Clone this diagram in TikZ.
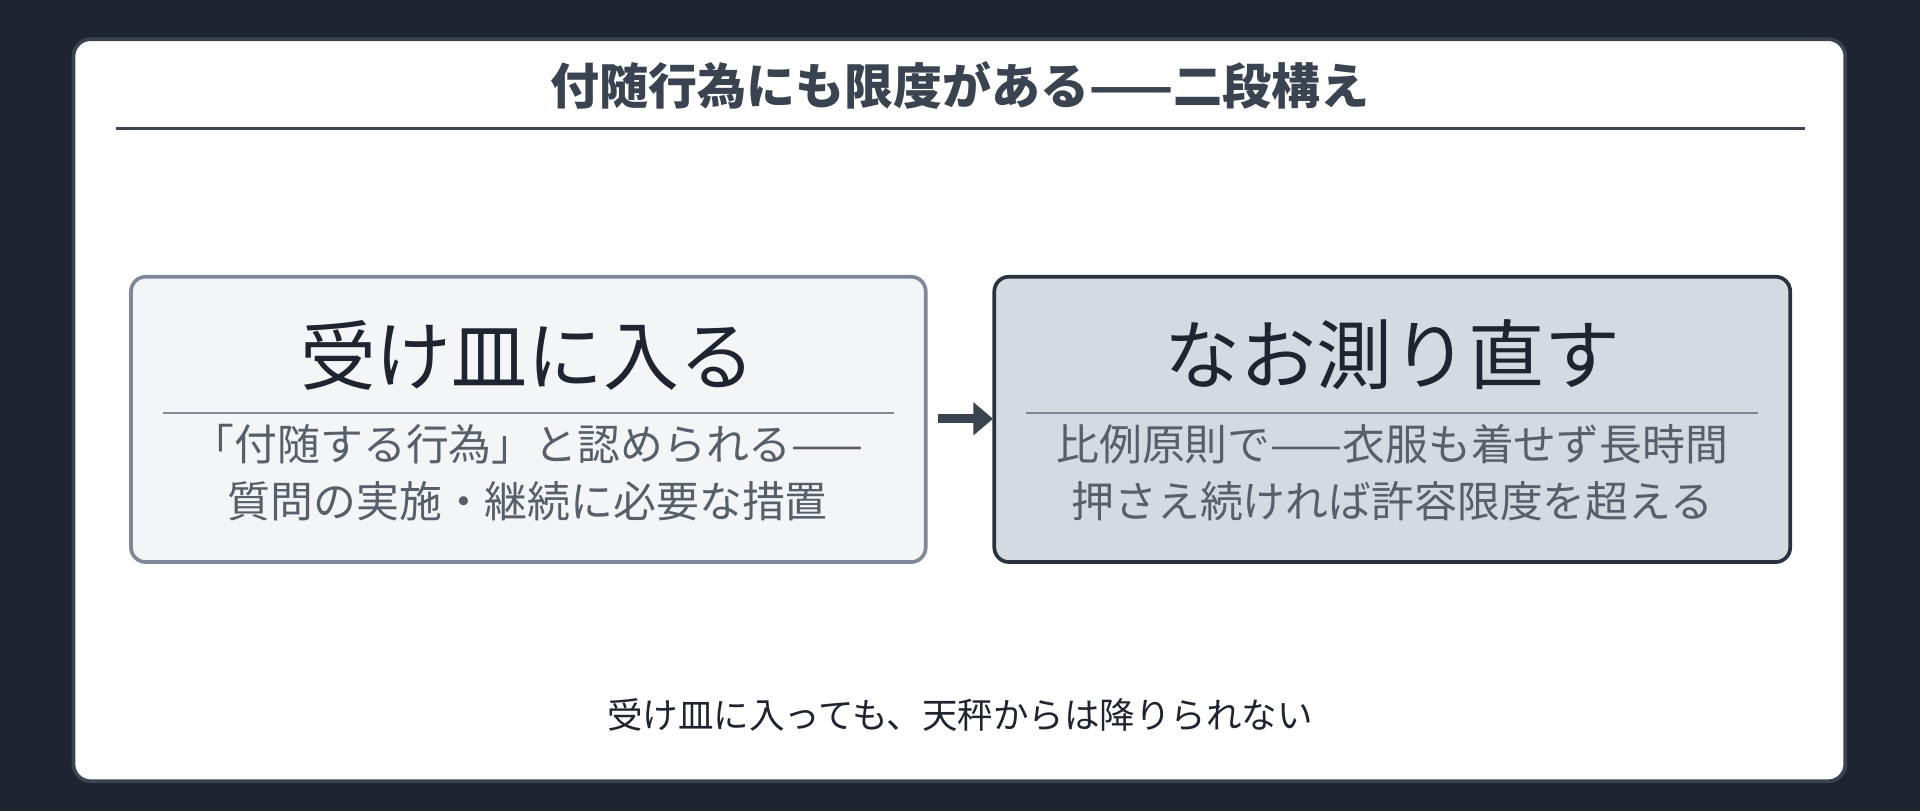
\documentclass[tikz,border=0pt]{standalone}
\usepackage{fontspec}
\setmainfont{Noto Sans CJK JP}
\usetikzlibrary{arrows.meta}
\definecolor{bg}{HTML}{1E2430}
\definecolor{ink}{HTML}{3A4350}
\definecolor{dark}{HTML}{1E2430}
\definecolor{lbox}{HTML}{F3F5F7}
\definecolor{lbord}{HTML}{7E8898}
\definecolor{rbox}{HTML}{D5DAE1}
\definecolor{rbord}{HTML}{2A3240}
\begin{document}
\begin{tikzpicture}[x=1pt,y=-1pt,
  box/.style={rounded corners=12pt,line width=3pt},
  head/.style={font=\fontsize{62}{70}\selectfont,text=dark},
  sub/.style={font=\fontsize{35}{46}\selectfont,text=ink!85,align=center}]
\fill[bg] (0,0) rectangle (1568,662);
\useasboundingbox (0,0) rectangle (1568,662);
\draw[fill=white,draw=ink,line width=3pt,rounded corners=14pt] (60,32) rectangle (1507,638);
\node[font=\fontsize{40}{48}\bfseries\selectfont,text=ink] (title) at (784,70) {付随行為にも限度がある——二段構え};
\draw[ink,line width=2pt] (95,105) -- (1474,105);
\draw[box,fill=lbox,draw=lbord] (107,226) rectangle (756,459);
\node[head] (lt) at (431,290) {受け皿に入る};
\draw[lbord,line width=1.5pt] (133,337) -- (730,337);
\node[sub] (ls) at (431,386) {「付随する行為」と認められる——\\質問の実施・継続に必要な措置};
\draw[box,fill=rbox,draw=rbord] (812,226) rectangle (1462,459);
\node[head] (rt) at (1137,290) {なお測り直す};
\draw[lbord,line width=1.5pt] (838,337) -- (1436,337);
\node[sub] (rs) at (1137,386) {比例原則で——衣服も着せず長時間\\押さえ続ければ許容限度を超える};
\coordinate (a1) at (766,342);
\coordinate (a2) at (811,342);
\draw[ink,line width=7pt,-{Triangle[length=16pt,width=26pt]}] (a1) -- (a2);
\node[font=\fontsize{29}{34}\selectfont,text=dark] (foot) at (784,584) {受け皿に入っても、天秤からは降りられない};
\end{tikzpicture}
\end{document}
